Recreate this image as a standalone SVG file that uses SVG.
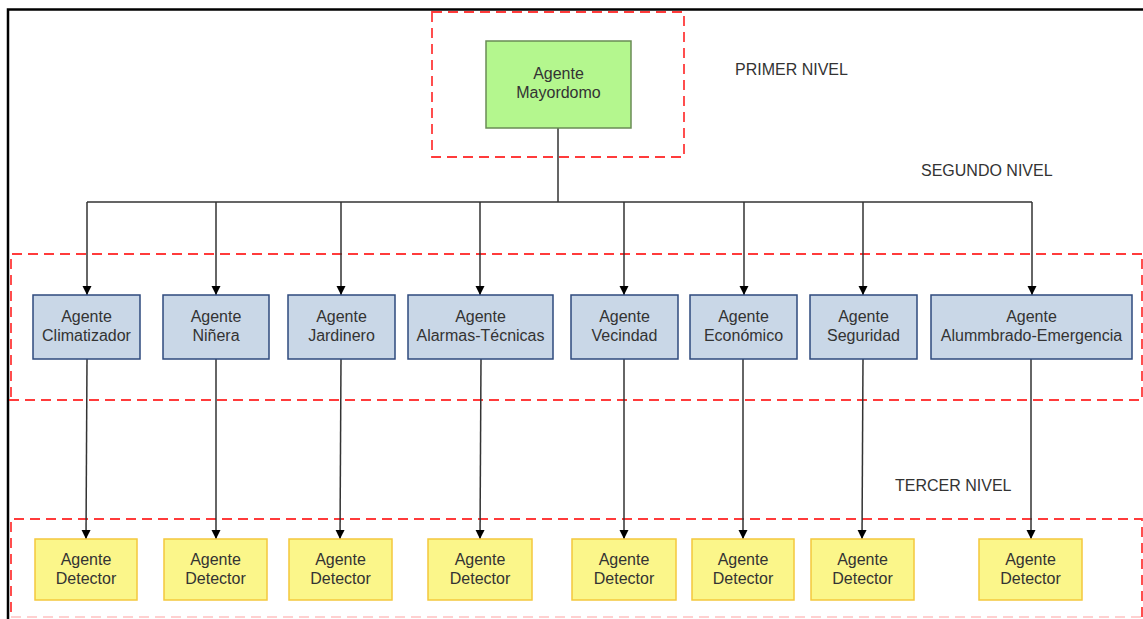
<svg xmlns="http://www.w3.org/2000/svg" width="1143" height="619" viewBox="0 0 1143 619">
<style>
.frame{fill:none;stroke:#000;stroke-width:2.5}
.zone{fill:none;stroke:#ff3b3b;stroke-width:1.8;stroke-dasharray:10 6}
.green{fill:#b4f78e;stroke:#6a8c55;stroke-width:1.5}
.blue{fill:#c9d7e7;stroke:#2e4a7d;stroke-width:1.5}
.yellow{fill:#fbf68a;stroke:#f4c83c;stroke-width:1.5}
.t{font-family:"Liberation Sans",Arial,sans-serif;font-size:16px;fill:#333;text-anchor:middle}
.lbl{font-family:"Liberation Sans",Arial,sans-serif;font-size:16px;fill:#333}
.c{fill:none;stroke:#333;stroke-width:1.5}
.a{marker-end:url(#ah)}
</style>
<defs>
<marker id="ah" markerWidth="10" markerHeight="10" refX="9" refY="5" orient="auto" markerUnits="userSpaceOnUse" viewBox="0 0 10 10">
<path d="M0,0.5 L9,5 L0,9.5 Z" fill="#000"/>
</marker>
</defs>
<rect width="1143" height="619" fill="#fff"/>
<path class="frame" d="M8,619 V9.5 H1143"/>
<rect class="zone" x="432" y="12" width="252" height="145"/>
<path class="zone" d="M1142,254 H11 V400 M9,400 H1142 V254"/>
<path class="zone" d="M1142,617 V519 H11 V617"/>
<path class="zone" d="M11,617 H1142" style="stroke:#ffd0d0"/>
<text class="lbl" x="735" y="75">PRIMER NIVEL</text>
<text class="lbl" x="921" y="176">SEGUNDO NIVEL</text>
<text class="lbl" x="895" y="491">TERCER NIVEL</text>
<g id="connectors">
<path class="c" d="M558,128 V202 M87,202 H1032"/>
<path class="c a" d="M87,202 V295"/>
<path class="c a" d="M216,202 V295"/>
<path class="c a" d="M341,202 V295"/>
<path class="c a" d="M480,202 V295"/>
<path class="c a" d="M624,202 V295"/>
<path class="c a" d="M744,202 V295"/>
<path class="c a" d="M863,202 V295"/>
<path class="c a" d="M1032,202 V295"/>
<path class="c a" d="M87,359 L86,539"/>
<path class="c a" d="M216,359 V539"/>
<path class="c a" d="M341,359 L340,539"/>
<path class="c a" d="M481,359 L480,539"/>
<path class="c a" d="M624,359 V539"/>
<path class="c a" d="M743,359 V539"/>
<path class="c a" d="M863,359 L862,539"/>
<path class="c a" d="M1031,359 V539"/>
</g>
<g id="mayordomo"><rect class="green" x="486" y="41" width="145" height="87"/><text class="t" x="558.5" y="79">Agente</text><text class="t" x="558.5" y="98">Mayordomo</text></g>
<g id="climatizador"><rect class="blue" x="33" y="295" width="107" height="64"/><text class="t" x="86.5" y="322">Agente</text><text class="t" x="86.5" y="341">Climatizador</text></g>
<g id="ninera"><rect class="blue" x="163" y="295" width="106" height="64"/><text class="t" x="216" y="322">Agente</text><text class="t" x="216" y="341">Niñera</text></g>
<g id="jardinero"><rect class="blue" x="288" y="295" width="107" height="64"/><text class="t" x="341.5" y="322">Agente</text><text class="t" x="341.5" y="341">Jardinero</text></g>
<g id="alarmas"><rect class="blue" x="408" y="295" width="145" height="64"/><text class="t" x="480.5" y="322">Agente</text><text class="t" x="480.5" y="341">Alarmas-Técnicas</text></g>
<g id="vecindad"><rect class="blue" x="571" y="295" width="107" height="64"/><text class="t" x="624.5" y="322">Agente</text><text class="t" x="624.5" y="341">Vecindad</text></g>
<g id="economico"><rect class="blue" x="690" y="295" width="107" height="64"/><text class="t" x="743.5" y="322">Agente</text><text class="t" x="743.5" y="341">Económico</text></g>
<g id="seguridad"><rect class="blue" x="810" y="295" width="107" height="64"/><text class="t" x="863.5" y="322">Agente</text><text class="t" x="863.5" y="341">Seguridad</text></g>
<g id="alumbrado"><rect class="blue" x="931" y="295" width="201" height="64"/><text class="t" x="1031.5" y="322">Agente</text><text class="t" x="1031.5" y="341">Alummbrado-Emergencia</text></g>
<g id="detector1"><rect class="yellow" x="35" y="539" width="102" height="61"/><text class="t" x="86" y="565">Agente</text><text class="t" x="86" y="584">Detector</text></g>
<g id="detector2"><rect class="yellow" x="164" y="539" width="103" height="61"/><text class="t" x="215.5" y="565">Agente</text><text class="t" x="215.5" y="584">Detector</text></g>
<g id="detector3"><rect class="yellow" x="289" y="539" width="103" height="61"/><text class="t" x="340.5" y="565">Agente</text><text class="t" x="340.5" y="584">Detector</text></g>
<g id="detector4"><rect class="yellow" x="428" y="539" width="104" height="61"/><text class="t" x="480" y="565">Agente</text><text class="t" x="480" y="584">Detector</text></g>
<g id="detector5"><rect class="yellow" x="572" y="539" width="104" height="61"/><text class="t" x="624" y="565">Agente</text><text class="t" x="624" y="584">Detector</text></g>
<g id="detector6"><rect class="yellow" x="692" y="539" width="102" height="61"/><text class="t" x="743" y="565">Agente</text><text class="t" x="743" y="584">Detector</text></g>
<g id="detector7"><rect class="yellow" x="811" y="539" width="103" height="61"/><text class="t" x="862.5" y="565">Agente</text><text class="t" x="862.5" y="584">Detector</text></g>
<g id="detector8"><rect class="yellow" x="979" y="539" width="103" height="61"/><text class="t" x="1030.5" y="565">Agente</text><text class="t" x="1030.5" y="584">Detector</text></g>
</svg>
